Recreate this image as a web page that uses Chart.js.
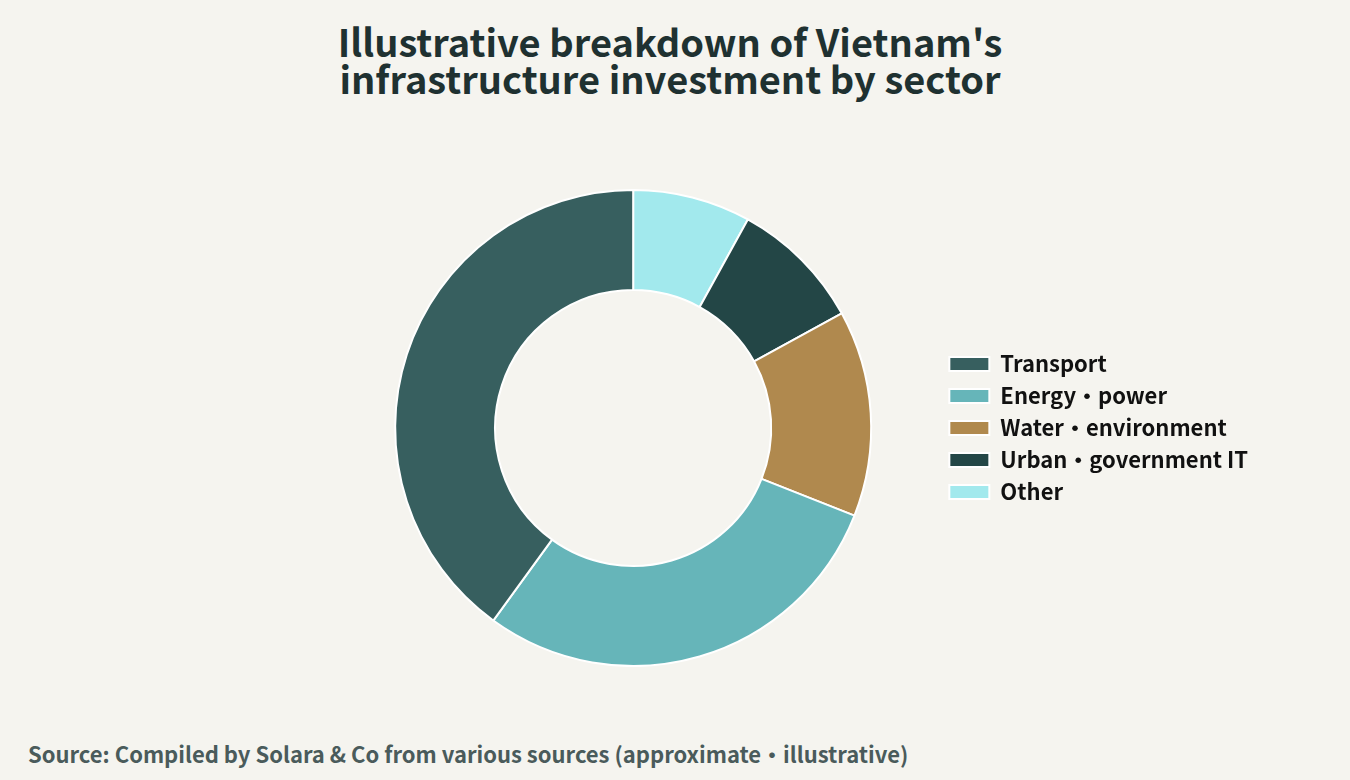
<!DOCTYPE html>
<html>
<head>
<meta charset="utf-8">
<script src="https://cdn.jsdelivr.net/npm/chart.js@4.4.1/dist/chart.umd.min.js"></script>
<style>
  html, body { margin: 0; padding: 0; }
  body {
    width: 1350px; height: 780px; overflow: hidden; position: relative;
    background: #f5f4ef;
    font-family: "Noto Sans CJK JP", "Noto Sans", sans-serif;
  }
  #title {
    position: absolute; left: 0; top: 22px; width: 1340px; margin: 0;
    text-align: center; font-size: 38px; line-height: 37px; font-weight: 700;
    color: #1f3131;
  }
  #chart-wrap { position: absolute; left: 0; top: 189px; width: 1346px; height: 478px; }
  #source {
    position: absolute; left: 28px; top: 737px; margin: 0;
    font-size: 22px; font-weight: 700; color: #4a5b5b;
  }
</style>
</head>
<body>
<h1 id="title">Illustrative breakdown of Vietnam's<br>infrastructure investment by sector</h1>
<div id="chart-wrap"><canvas id="sector-chart"></canvas></div>
<p id="source">Source: Compiled by Solara &amp; Co from various sources (approximate・illustrative)</p>
<script>
// Sector shares (%)
const sectors = ['Transport', 'Energy・power', 'Water・environment', 'Urban・government IT', 'Other'];
const shares = [40, 29, 14, 9, 8];
const sectorColors = ['#375f5f', '#66b5b9', '#b0894e', '#234646', '#a2e9ed'];

document.addEventListener('DOMContentLoaded', () => {
  const ctx = document.getElementById('sector-chart').getContext('2d');

  // The ring runs the other way round from the legend, so feed it reversed
  // and flip the legend back
  const labels = sectors.slice().reverse();
  const data = shares.slice().reverse();
  const colors = sectorColors.slice().reverse();

  new Chart(ctx, {
    type: 'doughnut',
    data: {
      labels: labels,
      datasets: [{
        data: data,
        backgroundColor: colors,
        borderColor: '#ffffff',
        borderWidth: 2,
        hoverOffset: 0
      }]
    },
    options: {
      responsive: true,
      maintainAspectRatio: false,
      animation: false,
      cutout: '58%',
      layout: { padding: { left: 327, right: 88, top: 0, bottom: 0 } },
      plugins: {
        tooltip: { enabled: false },
        legend: {
          position: 'right',
          align: 'center',
          reverse: true,
          labels: {
            boxWidth: 40,
            boxHeight: 14,
            padding: 10,
            color: '#111111',
            font: { family: '"Noto Sans CJK JP", "Noto Sans", sans-serif', size: 22, weight: 'bold' }
          }
        }
      }
    }
  });
});
</script>
</body>
</html>
